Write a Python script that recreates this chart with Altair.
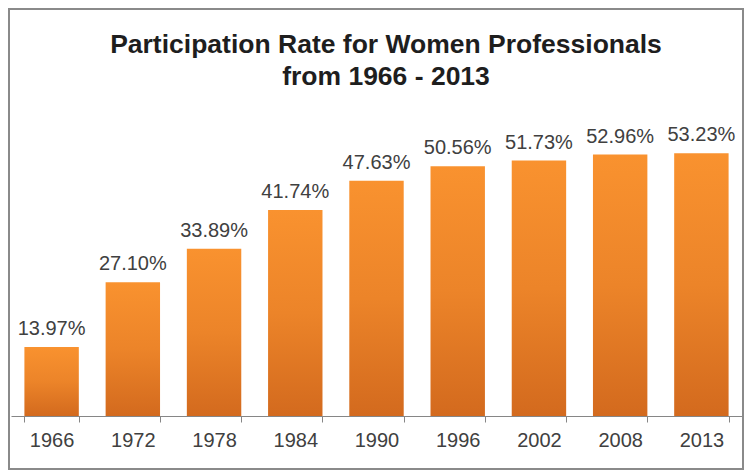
import altair as alt
import pandas as pd

years = ["1966", "1972", "1978", "1984", "1990", "1996", "2002", "2008", "2013"]
rates = [13.97, 27.10, 33.89, 41.74, 47.63, 50.56, 51.73, 52.96, 53.23]
labels = ["13.97%", "27.10%", "33.89%", "41.74%", "47.63%", "50.56%", "51.73%", "52.96%", "53.23%"]
title_lines = ["Participation Rate for Women Professionals", "from 1966 - 2013"]

df = pd.DataFrame({"year": years, "rate": rates, "label": labels})

W, H = 731, 316
PL, PR, PT, PB = 3, 2, 92, 54
FONT = "Liberation Sans"

xenc = alt.X("year:N", sort=years, title=None,
             scale=alt.Scale(paddingInner=0.33, paddingOuter=0.165),
             axis=alt.Axis(labelAngle=0, labelFontSize=20, labelColor="#404040",
                           labelFont=FONT, labelPadding=8, tickBand="extent",
                           tickSize=6, tickColor="#868686", domainColor="#868686",
                           domainWidth=1.2, grid=False))
yenc = alt.Y("rate:Q", scale=alt.Scale(domain=[0, 64], nice=False), axis=None, title=None)

grad = alt.Gradient(gradient="linear", x1=0, x2=0, y1=0, y2=1,
                    stops=[alt.GradientStop(color="#F9922F", offset=0),
                           alt.GradientStop(color="#EC8429", offset=0.5),
                           alt.GradientStop(color="#D36A1E", offset=1)])

bars = alt.Chart(df).mark_bar(color=grad).encode(x=xenc, y=yenc)

text = alt.Chart(df).mark_text(baseline="bottom", dy=-8, fontSize=20,
                               font=FONT, color="#404040").encode(
    x=alt.X("year:N", sort=years), y="rate:Q", text="label:N")

border = alt.Chart(pd.DataFrame({"a": [0]})).mark_rect(
    fill="transparent", stroke="#8a8a8a", strokeWidth=2).encode(
    x=alt.value(-PL + 1), x2=alt.value(W + PR - 1),
    y=alt.value(-PT + 1), y2=alt.value(H + PB - 1))

t1 = alt.Chart(pd.DataFrame({"t": [title_lines[0]]})).mark_text(
    fontSize=26.5, font=FONT, fontWeight="bold", color="#1e1e1e",
    baseline="middle", align="center").encode(
    x=alt.value(375), y=alt.value(-55), text="t:N")
t2 = alt.Chart(pd.DataFrame({"t": [title_lines[1]]})).mark_text(
    fontSize=26.5, font=FONT, fontWeight="bold", color="#1e1e1e",
    baseline="middle", align="center").encode(
    x=alt.value(375), y=alt.value(-23), text="t:N")

chart = alt.layer(border, bars, text, t1, t2).properties(
    width=W, height=H,
    autosize=alt.AutoSizeParams(type="none"),
    padding={"left": PL, "right": PR, "top": PT, "bottom": PB},
).configure_view(stroke=None)

chart.save("out.html", embed_options={"renderer": "svg", "actions": False})
